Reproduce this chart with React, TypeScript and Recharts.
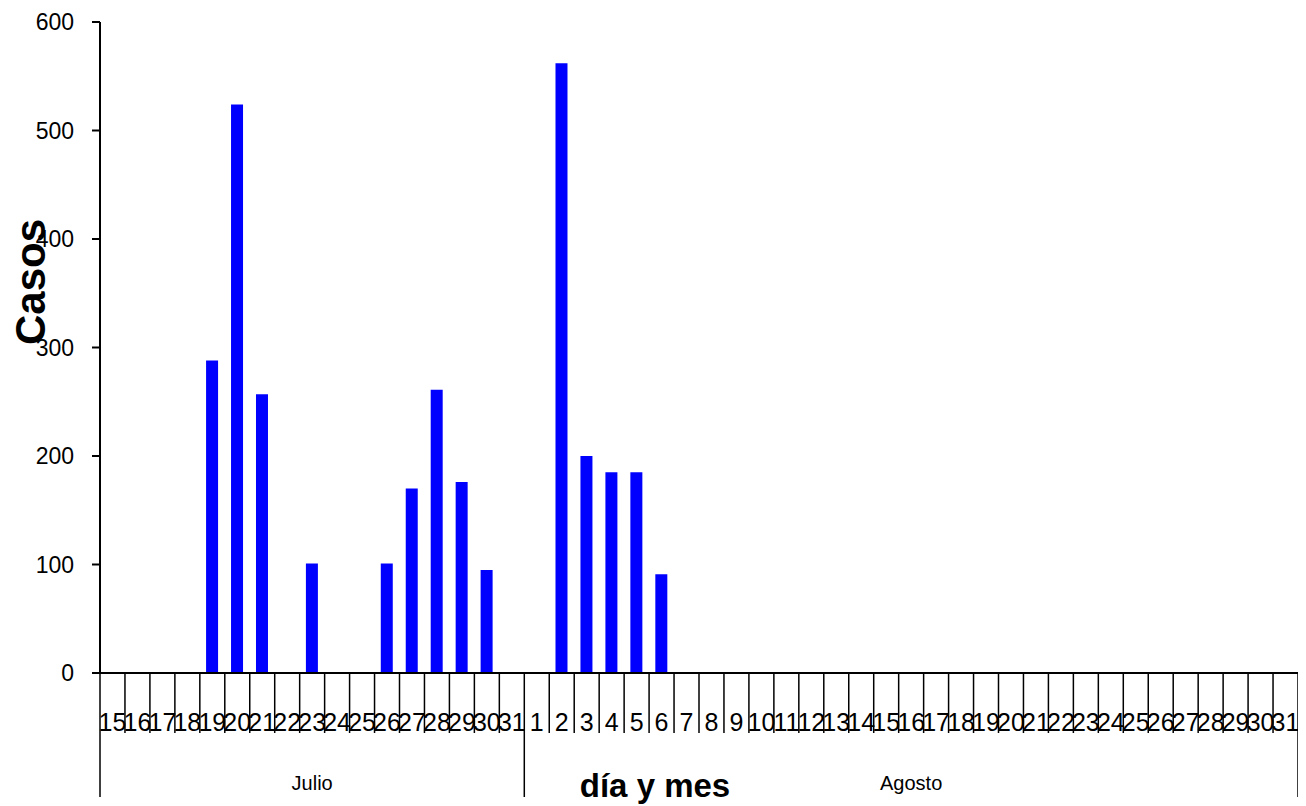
import React from "react";
import { BarChart, Bar, XAxis, YAxis, Label } from "recharts";

// categories
const MONTHS = ["Julio", "Agosto"];
const JULY_DAYS = [15, 16, 17, 18, 19, 20, 21, 22, 23, 24, 25, 26, 27, 28, 29, 30, 31];
const AUGUST_DAYS = [
  1, 2, 3, 4, 5, 6, 7, 8, 9, 10, 11, 12, 13, 14, 15, 16, 17, 18, 19, 20, 21,
  22, 23, 24, 25, 26, 27, 28, 29, 30, 31,
];

// casos por día
const JULY_CASES = [0, 0, 0, 0, 288, 524, 257, 0, 101, 0, 0, 101, 170, 261, 176, 95, 0];
const AUGUST_CASES = [
  0, 562, 200, 185, 185, 91, 0, 0, 0, 0, 0, 0, 0, 0, 0, 0, 0, 0, 0, 0, 0, 0, 0,
  0, 0, 0, 0, 0, 0, 0, 0,
];

const Y_TICKS = [0, 100, 200, 300, 400, 500, 600];

const data = [
  ...JULY_DAYS.map((d, i) => ({
    key: `${MONTHS[0]}-${d}`,
    day: d,
    month: MONTHS[0],
    first: i === 0,
    mid: i === Math.floor(JULY_DAYS.length / 2),
    casos: JULY_CASES[i],
  })),
  ...AUGUST_DAYS.map((d, i) => ({
    key: `${MONTHS[1]}-${d}`,
    day: d,
    month: MONTHS[1],
    first: i === 0,
    mid: i === Math.floor(AUGUST_DAYS.length / 2),
    casos: AUGUST_CASES[i],
  })),
];

const FONT = "'Liberation Sans', Arial, sans-serif";
const NARROW = "'Liberation Sans Narrow', 'Arial Narrow', 'Liberation Sans', sans-serif";
const W = 1298;
const H = 798;
const MARGIN = { top: 14, right: 8, left: 0, bottom: 0 };
const Y_WIDTH = 92;
const X_HEIGHT = 133;
const PLOT_W = W - MARGIN.left - MARGIN.right - Y_WIDTH;
const HALF = PLOT_W / data.length / 2;

const DayTick = (props: any) => {
  const { x, y, payload, index } = props;
  const row = data[index] || data[payload.index];
  const isLast = index === data.length - 1;
  return (
    <g>
      <line
        x1={x - HALF}
        x2={x - HALF}
        y1={y}
        y2={y + (row.first ? 124 : 60)}
        stroke="#000"
        strokeWidth={1.5}
      />
      {isLast && (
        <line x1={x + HALF} x2={x + HALF} y1={y} y2={y + 124} stroke="#000" strokeWidth={1.5} />
      )}
      <text x={x} y={y + 58} textAnchor="middle" fontSize={25} fontFamily={NARROW} fill="#000">
        {row.day}
      </text>
      {row.mid && (
        <text x={x} y={y + 117} textAnchor="middle" fontSize={20} fontFamily={FONT} fill="#000">
          {row.month}
        </text>
      )}
    </g>
  );
};

export default function App() {
  return (
    <BarChart width={W} height={H} data={data} margin={MARGIN} barCategoryGap="25%">
      <XAxis
        dataKey="key"
        interval={0}
        height={X_HEIGHT}
        tickSize={0}
        tickMargin={0}
        tickLine={false}
        tick={<DayTick />}
        axisLine={{ stroke: "#000", strokeWidth: 2 }}
      >
        <Label
          content={() => (
            <text
              x={647}
              y={789}
              textAnchor="middle"
              fontSize={33}
              fontWeight="bold"
              fontFamily={FONT}
              fill="#000"
            >
              día y mes
            </text>
          )}
        />
      </XAxis>
      <YAxis
        width={Y_WIDTH}
        domain={[0, 600]}
        ticks={Y_TICKS}
        interval={0}
        tickSize={8}
        tickMargin={18}
        tick={{ fontSize: 23, fontFamily: FONT, fill: "#000" }}
        tickLine={{ stroke: "#000", strokeWidth: 2 }}
        axisLine={{ stroke: "#000", strokeWidth: 2 }}
      >
        <Label
          content={() => (
            <text
              x={22}
              y={274}
              transform="rotate(-90 22 274)"
              textAnchor="middle"
              dominantBaseline="central"
              fontSize={42}
              fontWeight="bold"
              fontFamily={FONT}
              fill="#000"
            >
              Casos
            </text>
          )}
        />
      </YAxis>
      <Bar dataKey="casos" fill="#0000ff" isAnimationActive={false} />
    </BarChart>
  );
}
